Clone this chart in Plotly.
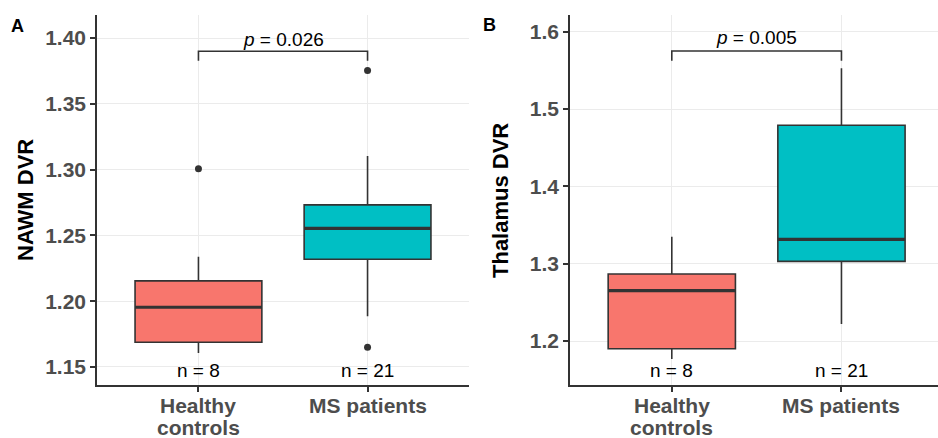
import plotly.graph_objects as go

# ---- data ----
groups = ["Healthy<br>controls", "MS patients"]
n_labels = ["n = 8", "n = 21"]
colors = ["#F8766D", "#00BFC4"]

# Panel A: NAWM DVR
a_q1 = [1.1688, 1.2319]
a_med = [1.1954, 1.2553]
a_q3 = [1.2154, 1.2732]
a_lo = [1.1607, 1.1886]
a_hi = [1.2337, 1.3103]
a_out_x = [0, 1, 1]
a_out_y = [1.3006, 1.3754, 1.1650]
a_p = "<i>p</i> = 0.026"
a_bracket = [1.3827, 1.3899]

# Panel B: Thalamus DVR
b_q1 = [1.1900, 1.3030]
b_med = [1.2651, 1.3315]
b_q3 = [1.2866, 1.4790]
b_lo = [1.1767, 1.2220]
b_hi = [1.3349, 1.5527]
b_p = "<i>p</i> = 0.005"
b_bracket = [1.5625, 1.5750]

a_yticks = [1.15, 1.20, 1.25, 1.30, 1.35, 1.40]
b_yticks = [1.2, 1.3, 1.4, 1.5, 1.6]

FONT = "Liberation Sans, Arial, sans-serif"
W, H = 938, 438
BW = 0.75

fig = go.Figure()

def add_panel(xa, ya, q1, med, q3, lo, hi):
    for i in range(2):
        fig.add_trace(go.Box(
            x=[i], q1=[q1[i]], median=[med[i]], q3=[q3[i]],
            lowerfence=[lo[i]], upperfence=[hi[i]],
            width=BW, whiskerwidth=0, boxpoints=False,
            fillcolor=colors[i], line=dict(color="#333333", width=1.6),
            xaxis=xa, yaxis=ya, showlegend=False, hoverinfo="skip"))
        fig.add_trace(go.Scatter(
            x=[i - BW / 2, i + BW / 2], y=[med[i], med[i]], mode="lines",
            line=dict(color="#333333", width=3.2),
            xaxis=xa, yaxis=ya, showlegend=False, hoverinfo="skip"))

add_panel("x", "y", a_q1, a_med, a_q3, a_lo, a_hi)
add_panel("x2", "y2", b_q1, b_med, b_q3, b_lo, b_hi)

fig.add_trace(go.Scatter(x=a_out_x, y=a_out_y, mode="markers",
                         marker=dict(color="#333333", size=7),
                         xaxis="x", yaxis="y", showlegend=False))

for xa, ya, br in (("x", "y", a_bracket), ("x2", "y2", b_bracket)):
    fig.add_trace(go.Scatter(x=[0, 0, 1, 1], y=[br[0], br[1], br[1], br[0]],
                             mode="lines", line=dict(color="#333333", width=1.6),
                             xaxis=xa, yaxis=ya, showlegend=False))

y0, y1 = 1 - 385 / H, 1 - 15 / H

axis_common = dict(
    showline=True, linecolor="#333333", linewidth=1.6, automargin=False,
    ticks="outside", ticklen=5, tickwidth=1.6, tickcolor="#333333",
    showgrid=True, gridcolor="#ebebeb", gridwidth=1.3, zeroline=False,
    tickfont=dict(family=FONT, size=21, color="#4d4d4d", weight="bold"),
)

fig.update_layout(
    width=W, height=H, margin=dict(l=0, r=0, t=0, b=0),
    plot_bgcolor="white", paper_bgcolor="white",
    xaxis=dict(domain=[97 / W, 469 / W], range=[-0.6, 1.6],
               tickvals=[0, 1], showticklabels=False, anchor="y", **axis_common),
    yaxis=dict(domain=[y0, y1], range=[1.1363, 1.4175], tickvals=a_yticks,
               tickformat=".2f", anchor="x", **axis_common),
    xaxis2=dict(domain=[570 / W, 1.0], range=[-0.6, 1.569],
                tickvals=[0, 1], showticklabels=False, anchor="y2", **axis_common),
    yaxis2=dict(domain=[y0, y1], range=[1.1431, 1.6216], tickvals=b_yticks,
                tickformat=".1f", anchor="x2", **axis_common),
)

ann = []
txt_font = dict(family=FONT, size=19, color="black")
xlab_font = dict(family=FONT, size=21, color="#4d4d4d", weight="bold")
for xa, ya, ny in (("x", "y", 1.1475), ("x2", "y2", 1.1625)):
    for i in range(2):
        ann.append(dict(x=i, y=ny, xref=xa, yref=ya, text=n_labels[i],
                        showarrow=False, font=txt_font, yanchor="middle"))
        lines = groups[i].split("<br>")
        for k, line in enumerate(lines):
            ann.append(dict(x=i, y=1 - (405 + 22 * k) / H, xref=xa, yref="paper",
                            text=line, showarrow=False, font=xlab_font,
                            yanchor="middle"))
ann.append(dict(x=0.5, y=1.399, xref="x", yref="y", text=a_p, showarrow=False,
                font=txt_font, yanchor="middle"))
ann.append(dict(x=0.5, y=1.5925, xref="x2", yref="y2", text=b_p, showarrow=False,
                font=txt_font, yanchor="middle"))
title_font = dict(family=FONT, size=22, color="black", weight="bold")
ann.append(dict(x=25 / W, y=1 - 200 / H, xref="paper", yref="paper",
                text="NAWM DVR", textangle=-90, showarrow=False, font=title_font,
                xanchor="center", yanchor="middle"))
ann.append(dict(x=500 / W, y=1 - 201 / H, xref="paper", yref="paper",
                text="Thalamus DVR", textangle=-90, showarrow=False, font=title_font,
                xanchor="center", yanchor="middle"))
lab_font = dict(family=FONT, size=18, color="black", weight="bold")
ann.append(dict(x=17 / W, y=1 - 25.5 / H, xref="paper", yref="paper", text="A",
                showarrow=False, font=lab_font, xanchor="center", yanchor="middle"))
ann.append(dict(x=490 / W, y=1 - 24.5 / H, xref="paper", yref="paper", text="B",
                showarrow=False, font=lab_font, xanchor="center", yanchor="middle"))
fig.update_layout(annotations=ann)

fig.write_html("out.html")
